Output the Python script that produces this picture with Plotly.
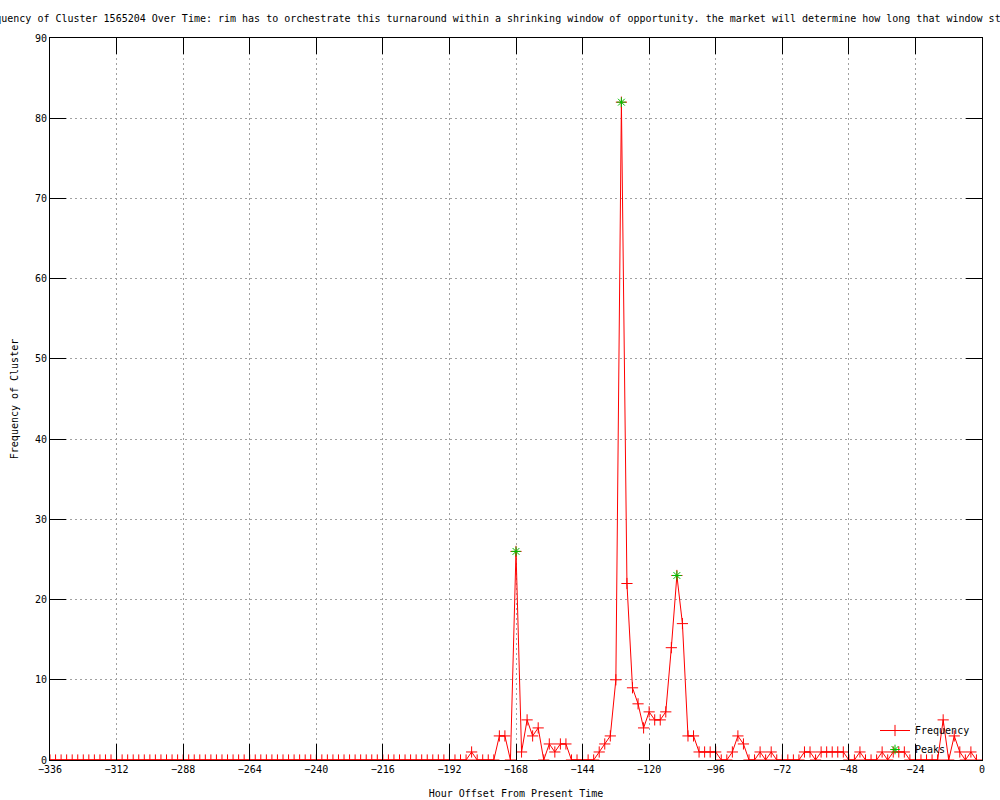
import plotly.graph_objects as go

# Hours before present, every 2 hours from -336 to -2
hours = list(range(-336, 0, 2))

frequency = [
    0, 0, 0, 0, 0, 0, 0, 0, 0, 0, 0, 0,      # -336 .. -314
    0, 0, 0, 0, 0, 0, 0, 0, 0, 0, 0, 0,      # -312 .. -290
    0, 0, 0, 0, 0, 0, 0, 0, 0, 0, 0, 0,      # -288 .. -266
    0, 0, 0, 0, 0, 0, 0, 0, 0, 0, 0, 0,      # -264 .. -242
    0, 0, 0, 0, 0, 0, 0, 0, 0, 0, 0, 0,      # -240 .. -218
    0, 0, 0, 0, 0, 0, 0, 0, 0, 0, 0, 0,      # -216 .. -194
    0, 0, 0, 0, 1, 0, 0, 0, 0, 3, 3, 0,      # -192 .. -170
    26, 1, 5, 3, 4, 0, 2, 1, 2, 2, 0, 0,     # -168 .. -146
    0, 0, 0, 1, 2, 3, 10, 82, 22, 9, 7, 4,   # -144 .. -122
    6, 5, 5, 6, 14, 23, 17, 3, 3, 1, 1, 1,   # -120 .. -98
    1, 0, 0, 1, 3, 2, 0, 0, 1, 0, 1, 0,      # -96 .. -74
    0, 0, 0, 0, 1, 1, 0, 1, 1, 1, 1, 1,      # -72 .. -50
    0, 0, 1, 0, 0, 0, 1, 0, 1, 1, 1, 0,      # -48 .. -26
    0, 0, 0, 0, 0, 5, 0, 3, 1, 0, 1, 0,      # -24 .. -2
]

peak_hours = [-168, -130, -110]
peak_values = [26, 82, 23]

x_ticks = [-336, -312, -288, -264, -240, -216, -192, -168, -144, -120, -96, -72, -48, -24, 0]
y_ticks = [0, 10, 20, 30, 40, 50, 60, 70, 80, 90]

title_text = ("Frequency of Cluster 1565204 Over Time: rim has to orchestrate this turnaround "
              "within a shrinking window of opportunity. the market will determine how long "
              "that window stays open")

FONT = "DejaVu Sans Mono"

fig = go.Figure()
fig.add_trace(go.Scatter(
    x=hours, y=frequency, mode="lines+markers", name="Frequency",
    line=dict(color="#ff0000", width=1),
    marker=dict(symbol="cross-thin-open", size=8, color="#ff0000",
                line=dict(color="#ff0000", width=1)),
))
fig.add_trace(go.Scatter(
    x=peak_hours, y=peak_values, mode="markers", name="Peaks",
    marker=dict(symbol="asterisk-open", size=8, color="#00c000",
                line=dict(color="#00c000", width=1)),
))

axis_common = dict(
    showline=True, linecolor="black", linewidth=1, mirror="ticks",
    ticks="inside", ticklen=16, tickwidth=1, tickcolor="black",
    showgrid=True, gridcolor="#a0a0a0", gridwidth=1, griddash="2px,3px",
    zeroline=False, tickfont=dict(family=FONT, size=10, color="black"),
)

fig.update_layout(
    width=1000, height=800,
    paper_bgcolor="white", plot_bgcolor="white",
    margin=dict(l=50, r=18, t=38, b=40),
    font=dict(family=FONT, size=10, color="black"),
    title=dict(text=title_text, x=(513 - 50) / 932, xref="paper", xanchor="center",
               y=1 - 18 / 800, yref="container", yanchor="middle",
               font=dict(family=FONT, size=10, color="black")),
    xaxis=dict(range=[-336, 0], tickvals=x_ticks,
               title=dict(text="Hour Offset From Present Time", standoff=15,
                          font=dict(family=FONT, size=10)),
               automargin=False, **axis_common),
    yaxis=dict(range=[0, 90], tickvals=y_ticks,
               title=dict(text="Frequency of Cluster", standoff=14,
                          font=dict(family=FONT, size=10)),
               automargin=False, **axis_common),
    legend=dict(x=(975 - 50) / 932, y=(760 - 740) / 722, xanchor="right", yanchor="middle",
                bgcolor="rgba(0,0,0,0)", font=dict(family=FONT, size=10),
                tracegroupgap=0, itemwidth=30),
    showlegend=True,
)

fig.write_html("out.html", config={"displayModeBar": False},
               post_script="document.body.style.margin='0px';")
